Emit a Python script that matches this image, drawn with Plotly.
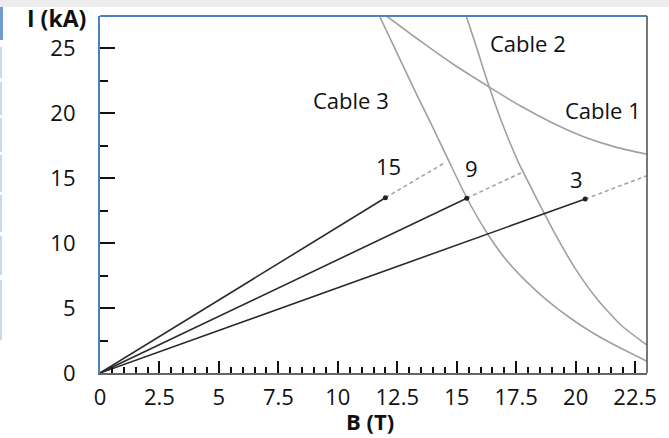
import plotly.graph_objects as go

# Critical-current curves (B in T, I in kA)
cable1_B = [12.05, 13.45, 14.84, 16.32, 17.65, 18.99, 20.34, 21.68, 23.0]
cable1_I = [27.5, 25.6, 23.8, 22.08, 20.6, 19.3, 18.2, 17.4, 16.85]

cable2_B = [15.4, 15.85, 16.3, 16.9, 17.6, 18.4, 19.2, 20.0, 20.9, 21.9, 23.0]
cable2_I = [27.5, 25.0, 22.4, 19.3, 16.2, 13.3, 10.5, 8.0, 5.7, 3.7, 2.15]

cable3_B = [11.75, 12.5, 13.25, 14.0, 14.7, 15.42, 16.2, 17.0, 17.9, 18.8, 19.8, 20.8, 21.9, 23.0]
cable3_I = [27.5, 24.6, 21.7, 18.9, 16.2, 13.5, 11.0, 8.9, 7.1, 5.6, 4.2, 3.0, 1.9, 0.9]

# Load lines (label, operating point, dashed extension end)
load_labels = ["15", "9", "3"]
op_B = [12.0, 15.42, 20.4]
op_I = [13.5, 13.46, 13.4]
ext_B = [14.5, 17.8, 23.0]
ext_I = [16.2, 15.5, 15.2]
label_B = [12.15, 15.62, 20.05]
label_I = [15.95, 15.8, 14.95]

curve_labels = ["Cable 1", "Cable 2", "Cable 3"]
curve_label_B = [21.13, 17.98, 10.55]
curve_label_I = [20.25, 25.4, 21.0]

FONT = "Open Sans, Liberation Sans, sans-serif"
GRAY = "#a0a0a0"
BLUE = "#4f81bd"

fig = go.Figure()

for bx, iy in [(cable1_B, cable1_I), (cable2_B, cable2_I), (cable3_B, cable3_I)]:
    fig.add_trace(go.Scatter(x=bx, y=iy, mode="lines", line=dict(color=GRAY, width=1.6, shape="spline", smoothing=0.6),
                             showlegend=False, hoverinfo="skip"))

for k in range(len(load_labels)):
    fig.add_trace(go.Scatter(x=[op_B[k], ext_B[k]], y=[op_I[k], ext_I[k]], mode="lines",
                             line=dict(color=GRAY, width=1.5, dash="4px,3px"), showlegend=False, hoverinfo="skip"))
    fig.add_trace(go.Scatter(x=[0, op_B[k]], y=[0, op_I[k]], mode="lines",
                             line=dict(color="#2b2b2b", width=1.6), showlegend=False, hoverinfo="skip"))
    fig.add_trace(go.Scatter(x=[op_B[k]], y=[op_I[k]], mode="markers",
                             marker=dict(color="#222", size=5), showlegend=False, hoverinfo="skip"))
    fig.add_annotation(x=label_B[k], y=label_I[k], text=load_labels[k], showarrow=False,
                       xanchor="center", yanchor="middle",
                       font=dict(family=FONT, size=22, color="#111"))

for k in range(len(curve_labels)):
    fig.add_annotation(x=curve_label_B[k], y=curve_label_I[k], text=curve_labels[k], showarrow=False,
                       xanchor="center", yanchor="middle",
                       font=dict(family=FONT, size=22, color="#111"))


def px(x):
    return (x - 100) / 547


def py(y):
    return (373 - y) / 357


# axis titles
fig.add_annotation(xref="paper", yref="paper", x=px(56), y=py(18), text="<b>I (kA)</b>",
                   xanchor="center", yanchor="middle",
                   showarrow=False, font=dict(family=FONT, size=23, color="#111"))
fig.add_annotation(xref="paper", yref="paper", x=px(370), y=py(421), text="<b>B (T)</b>",
                   xanchor="center", yanchor="middle",
                   showarrow=False, font=dict(family=FONT, size=22, color="#111"))

shapes = []
# top slide band
shapes.append(dict(type="rect", xref="paper", yref="paper", x0=px(0), x1=px(669), y0=py(7), y1=py(0),
                   fillcolor="#ececec", line=dict(width=0), layer="below"))
# left slide strips
shapes.append(dict(type="rect", xref="paper", yref="paper", x0=px(0), x1=px(3), y0=py(40), y1=py(7),
                   fillcolor="#6f9bd1", line=dict(width=0)))
for a, b in [(47, 78), (82, 115), (118, 152), (155, 192), (195, 232), (236, 275), (280, 340)]:
    shapes.append(dict(type="rect", xref="paper", yref="paper", x0=px(0), x1=px(2), y0=py(b), y1=py(a),
                       fillcolor="#c9d8ee", line=dict(width=0)))
# top border (blue) and right border (dark gray)
shapes.append(dict(type="line", xref="paper", yref="paper", x0=0, x1=1, y0=1, y1=1, line=dict(color=BLUE, width=2.2)))
shapes.append(dict(type="line", xref="paper", yref="paper", x0=1, x1=1, y0=0, y1=1, line=dict(color="#555", width=1.6)))
fig.update_layout(shapes=shapes)

fig.update_xaxes(range=[0, 23], tick0=0, dtick=2.5, ticks="inside", ticklen=12, tickwidth=1.6, tickcolor="#111",
                 minor=dict(dtick=0.5, ticks="inside", ticklen=6, tickwidth=1.6, tickcolor="#111"),
                 showline=True, linecolor="#666", linewidth=1.6, showgrid=False, zeroline=False,
                 tickfont=dict(family=FONT, size=22, color="#111"), ticklabelstandoff=4, automargin=False,
                 fixedrange=True)
fig.update_yaxes(range=[0, 27.5], tick0=0, dtick=5, ticks="inside", ticklen=15, tickwidth=1.6, tickcolor="#111",
                 minor=dict(dtick=2.5, ticks="inside", ticklen=8, tickwidth=1.6, tickcolor="#111"),
                 showline=True, linecolor=BLUE, linewidth=2.2, showgrid=False, zeroline=False,
                 tickfont=dict(family=FONT, size=22, color="#111"), ticklabelstandoff=18, automargin=False,
                 fixedrange=True)

fig.update_layout(width=669, height=438, margin=dict(l=100, r=22, t=16, b=65, autoexpand=False),
                  plot_bgcolor="white", paper_bgcolor="white", showlegend=False)

fig.write_html("out.html", include_plotlyjs=True, config={"displayModeBar": False},
               post_script="document.body.style.margin='0';document.body.style.overflow='hidden';")
